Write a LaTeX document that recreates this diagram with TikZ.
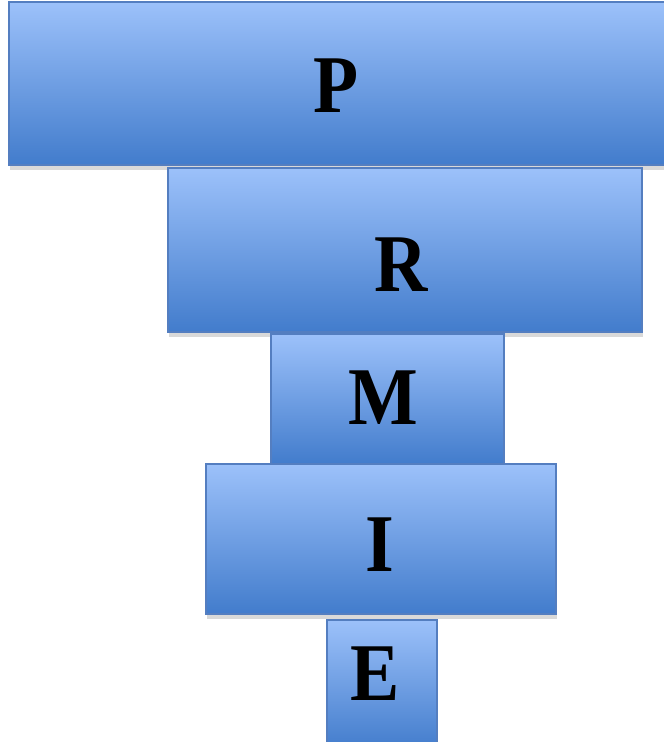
\documentclass[tikz,border=0pt]{standalone}
\usepackage{fontspec}
\usepackage{tikz}
\usepackage{xcolor}
\usetikzlibrary{shadows}
\newfontfamily\boxfont{Liberation Serif}[FakeStretch=0.9]
\definecolor{boxtop}{RGB}{156,193,250}
\definecolor{boxmid}{RGB}{124,166,232}
\definecolor{boxbot}{RGB}{66,124,204}
\definecolor{boxline}{RGB}{84,126,192}
\tikzset{
  tier/.style={draw=boxline, line width=0.6pt, top color=boxtop, middle color=boxmid, bottom color=boxbot,
    drop shadow={shadow xshift=0.5pt, shadow yshift=-2.5pt, opacity=0.15, fill=black}},
  letter/.style={font=\boxfont\bfseries\fontsize{41}{41}\selectfont, inner sep=0pt, text=black}
}

\begin{document}
\begin{tikzpicture}[x=0.5pt,y=-0.5pt]
\useasboundingbox (0,0) rectangle (663,742);
\fill[white] (0,0) rectangle (663,742);
\path[tier] (9,2) rectangle (668,165);
\node[letter] (p) at (336,86) {P};
\path[tier] (168,168) rectangle (642,332);
\node[letter] (r) at (401,265) {R};
\path[tier] (271,334) rectangle (504,464);
\node[letter] (m) at (383,398) {M};
\path[tier] (206,464) rectangle (556,614);
\node[letter] (i) at (380,545) {I};
\path[tier] (327,620) rectangle (437,750);
\node[letter] (e) at (375,674) {E};
\end{tikzpicture}
\end{document}
